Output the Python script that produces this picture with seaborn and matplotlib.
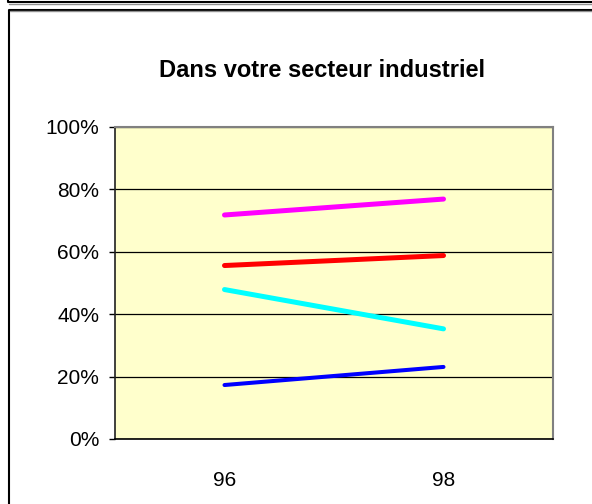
import pandas as pd
import matplotlib.pyplot as plt
import seaborn as sns
from matplotlib.lines import Line2D

# ---------------------------------------------------------
# Data
# ---------------------------------------------------------
years = ["96", "98"]
series_names = ["magenta", "rouge", "cyan", "bleu"]
magenta_vals = [0.718, 0.769]
red_vals = [0.556, 0.588]
cyan_vals = [0.479, 0.353]
blue_vals = [0.173, 0.231]
y_ticks = [0, 0.2, 0.4, 0.6, 0.8, 1.0]
y_tick_labels = ["0%", "20%", "40%", "60%", "80%", "100%"]
title = "Dans votre secteur industriel"

colors = {"magenta": "#FF00FF", "rouge": "#FF0000", "cyan": "#00FFFF", "bleu": "#0000FF"}
widths = {"magenta": 3.6, "rouge": 3.6, "cyan": 3.6, "bleu": 2.9}

rows = []
for name, vals in zip(series_names, [magenta_vals, red_vals, cyan_vals, blue_vals]):
    for yr, v in zip(years, vals):
        rows.append({"annee": yr, "valeur": v, "serie": name})
df = pd.DataFrame(rows)

sns.set_style("white")
plt.rcParams["font.family"] = ["Liberation Sans", "DejaVu Sans"]
plt.rcParams["text.color"] = "black"
plt.rcParams["xtick.color"] = "black"
plt.rcParams["ytick.color"] = "black"

W, H = 592, 504
fig = plt.figure(figsize=(W / 100, H / 100), dpi=100)
ax = fig.add_axes([115 / W, 1 - 439 / H, (553 - 115) / W, (439 - 127) / H])
ax.set_facecolor("#FFFFCC")

sns.lineplot(data=df, x="annee", y="valeur", hue="serie", hue_order=series_names,
             palette=colors, legend=False, ax=ax, zorder=3)
for line, name in zip(ax.lines, series_names):
    line.set_linewidth(widths[name])
    line.set_solid_capstyle("round")

ax.set_xlim(-0.5, 1.5)
ax.set_ylim(0, 1)
ax.set_xlabel("")
ax.set_ylabel("")

# category axis: labels centred, tick marks between categories
ax.set_xticks([0, 1])
ax.set_xticklabels(years)
ax.set_xticks([-0.5, 0.5, 1.5], minor=True)
ax.tick_params(axis="x", which="major", length=0, pad=23, labelsize=15, labelcolor="black")
ax.tick_params(axis="x", which="minor", length=4.5, width=1, color="black", direction="out")

ax.set_yticks(y_ticks)
ax.set_yticklabels(y_tick_labels)
ax.tick_params(axis="y", length=4.5, width=1, color="black", direction="out",
               pad=7, labelsize=15, labelcolor="black", left=True)

ax.yaxis.grid(True, color="black", linewidth=0.9)
ax.set_axisbelow(True)

for side in ["top", "right"]:
    ax.spines[side].set_color("#808080")
    ax.spines[side].set_linewidth(1.5)
ax.spines["left"].set_color("#202020")
ax.spines["left"].set_linewidth(1.2)
ax.spines["bottom"].set_color("black")
ax.spines["bottom"].set_linewidth(1.2)

fig.text(322 / W, 1 - 77 / H, title, ha="center", va="baseline",
         fontsize=17, fontweight="bold", color="black")

# outer frames (chart border, partly cut off like in the reference)
def px_line(xs, ys, color, lw):
    fig.add_artist(Line2D([x / W for x in xs], [1 - y / H for y in ys],
                          color=color, linewidth=lw, transform=fig.transFigure))

px_line([8.5, 8.5, W], [H, 9.5, 9.5], "black", 1.5)
px_line([10, W], [11, 11], "#909090", 1.0)
px_line([7.5, 7.5, W], [0, 2, 2], "black", 1.5)
px_line([9, W], [3.5, 3.5], "#909090", 1.0)

fig.savefig("out.png", dpi=100)
